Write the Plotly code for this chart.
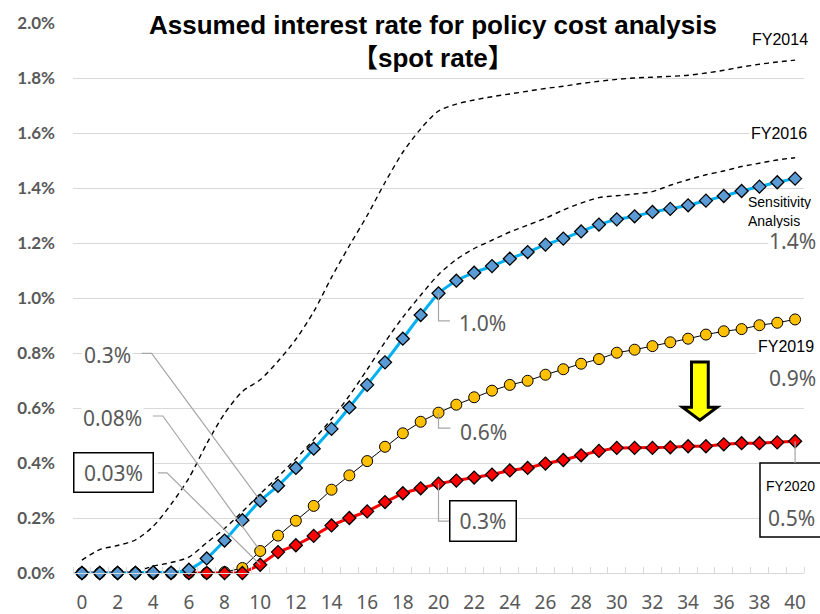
import plotly.graph_objects as go

# ---- data: spot rate (%) by term (years) ----
years = list(range(0, 41))

sensitivity = [0, 0, 0, 0, 0.003, 0.001, 0.012, 0.053, 0.118, 0.192,
               0.263, 0.317, 0.382, 0.452, 0.524, 0.602, 0.684, 0.766, 0.852, 0.938,
               1.017, 1.063, 1.092, 1.116, 1.143, 1.167, 1.194, 1.216, 1.242, 1.267,
               1.286, 1.297, 1.313, 1.324, 1.337, 1.354, 1.371, 1.389, 1.405, 1.421,
               1.434]

fy2019 = [0, 0, 0, 0, 0, 0, 0, 0, 0.003, 0.018,
          0.08, 0.136, 0.190, 0.244, 0.303, 0.355, 0.407, 0.459, 0.508, 0.550,
          0.583, 0.612, 0.639, 0.663, 0.684, 0.699, 0.721, 0.741, 0.761, 0.778,
          0.801, 0.812, 0.825, 0.839, 0.852, 0.867, 0.879, 0.887, 0.901, 0.910,
          0.922]

fy2020 = [0, 0, 0, 0, 0, 0, 0, 0, 0, 0,
          0.03, 0.076, 0.101, 0.135, 0.173, 0.200, 0.224, 0.258, 0.290, 0.308,
          0.325, 0.336, 0.347, 0.358, 0.373, 0.382, 0.398, 0.411, 0.428, 0.444,
          0.455, 0.455, 0.455, 0.457, 0.461, 0.461, 0.468, 0.472, 0.472, 0.475,
          0.479]

fy2016 = [0, 0, 0, 0.005, 0.025, 0.038, 0.058, 0.11, 0.162, 0.223,
          0.288, 0.35, 0.415, 0.485, 0.56, 0.645, 0.74, 0.84, 0.93, 1.01,
          1.085, 1.14, 1.18, 1.21, 1.24, 1.265, 1.29, 1.32, 1.345, 1.365,
          1.372, 1.378, 1.387, 1.41, 1.43, 1.448, 1.462, 1.478, 1.49, 1.502,
          1.51]

fy2014 = [0.047, 0.085, 0.10, 0.12, 0.17, 0.25, 0.345, 0.47, 0.58, 0.66,
          0.703, 0.77, 0.85, 0.95, 1.075, 1.19, 1.30, 1.42, 1.53, 1.615,
          1.68, 1.705, 1.72, 1.732, 1.742, 1.752, 1.762, 1.77, 1.78, 1.788,
          1.795, 1.80, 1.803, 1.806, 1.81, 1.818, 1.828, 1.84, 1.85, 1.858,
          1.865]

x_tick_vals = list(range(0, 41, 2))
y_tick_vals = [0.0, 0.2, 0.4, 0.6, 0.8, 1.0, 1.2, 1.4, 1.6, 1.8, 2.0]
y_tick_text = ["0.0%", "0.2%", "0.4%", "0.6%", "0.8%", "1.0%",
               "1.2%", "1.4%", "1.6%", "1.8%", "2.0%"]

TITLE_1 = "Assumed interest rate for policy cost analysis"
TITLE_2 = "【spot rate】"

# ---- styling ----
GRAY = "#595959"
GRID = "#D9D9D9"
LEADER = "#A6A6A6"
LABEL_FONT = "Noto Sans, DejaVu Sans, sans-serif"
NAME_FONT = "Liberation Sans, Arial, sans-serif"

fig = go.Figure()

# dashed reference curves
for series in (fy2014, fy2016):
    fig.add_trace(go.Scatter(
        x=years, y=series, mode="lines", cliponaxis=False, hoverinfo="skip",
        line=dict(color="black", width=1.4, dash="5px,4px",
                  shape="spline", smoothing=0.8),
    ))

fig.add_trace(go.Scatter(
    x=years, y=fy2019, mode="lines+markers", cliponaxis=False,
    line=dict(color="black", width=1),
    marker=dict(symbol="circle", size=11, color="#FFC000",
                line=dict(color="black", width=1)),
))

fig.add_trace(go.Scatter(
    x=years, y=fy2020, mode="lines+markers", cliponaxis=False,
    line=dict(color="#FF0000", width=3),
    marker=dict(symbol="diamond", size=10, color="#FF0000",
                line=dict(color="black", width=1.3)),
))

fig.add_trace(go.Scatter(
    x=years, y=sensitivity, mode="lines+markers", cliponaxis=False,
    line=dict(color="#00B0F0", width=3, shape="spline", smoothing=0.6),
    marker=dict(symbol="diamond", size=10, color="#5B9BD5",
                line=dict(color="black", width=1.3)),
))

annotations = []
shapes = []


def label(x, y, text, size=21, color=GRAY, family=LABEL_FONT, xanchor="center",
          bg="white", **kw):
    annotations.append(dict(
        x=x, y=y, xref="x", yref="y", text=text, showarrow=False,
        xanchor=xanchor, yanchor="middle", bgcolor=bg,
        font=dict(family=family, size=size, color=color), **kw))


def leader(points):
    path = "M " + " L ".join(f"{px},{py}" for px, py in points)
    shapes.append(dict(type="path", xref="x", yref="y", path=path,
                       line=dict(color=LEADER, width=1.2), layer="above"))


# 10-year values
label(1.43, 0.793, f"{sensitivity[10]:.1f}%")
leader([(3.35, 0.799), (3.91, 0.799), (10, sensitivity[10])])

label(1.71, 0.564, f"{fy2019[10]:.2f}%")
leader([(3.98, 0.571), (4.54, 0.571), (10, fy2019[10])])

label(1.77, 0.365, f"{fy2020[10]:.2f}%", bordercolor="black", borderwidth=1.5,
      borderpad=2, width=74, height=34)
leader([(4.26, 0.364), (4.77, 0.364), (10, fy2020[10])])

# 20-year values
label(22.49, 0.909, f"{sensitivity[20]:.1f}%")
leader([(20, sensitivity[20]), (20, 0.917), (20.64, 0.917)])

label(22.52, 0.513, f"{fy2019[20]:.1f}%")
leader([(20, fy2019[20]), (20, 0.527), (20.67, 0.527)])

label(22.49, 0.190, f"{fy2020[20]:.1f}%", bordercolor="black", borderwidth=1.5,
      borderpad=2, width=61, height=35)
leader([(20, fy2020[20]), (20, 0.189), (20.64, 0.189)])

# 40-year values and series names
label(39.17, 1.941, "FY2014", size=16, color="black", family=NAME_FONT)
label(39.12, 1.600, "FY2016", size=16, color="black", family=NAME_FONT)
label(37.30, 1.350, "Sensitivity", size=14, color="black", family=NAME_FONT,
      xanchor="left", bg="rgba(0,0,0,0)", borderpad=0, height=15)
label(37.30, 1.283, "Analysis", size=14, color="black", family=NAME_FONT,
      xanchor="left", bg="rgba(0,0,0,0)", borderpad=0, height=15)
label(39.88, 1.207, f"{sensitivity[40]:.1f}%", borderpad=0, height=20)
label(37.80, 0.823, "FY2019", size=16, color="black", family=NAME_FONT,
      xanchor="left")
label(39.88, 0.709, f"{fy2019[40]:.1f}%")

# FY2020 end-point box
shapes.append(dict(type="rect", xref="paper", yref="y", x0=0.9398, x1=1.08,
                   y0=0.131, y1=0.40, line=dict(color="black", width=1.5),
                   fillcolor="white", layer="above"))
leader([(40, fy2020[40]), (40, 0.40)])
label(38.25, 0.316, "FY2020", size=14, color="black", family=NAME_FONT,
      xanchor="left", bg="rgba(0,0,0,0)")
label(38.35, 0.200, f"{fy2020[40]:.1f}%", xanchor="left", bg="rgba(0,0,0,0)")

# downward arrow (FY2019 -> FY2020)
cx = 34.66
shaft, head = 0.47, 0.97
top, neck, tip = 0.767, 0.603, 0.556
arrow_path = (f"M {cx - shaft},{top} L {cx + shaft},{top} L {cx + shaft},{neck} "
              f"L {cx + head},{neck} L {cx},{tip} L {cx - head},{neck} "
              f"L {cx - shaft},{neck} Z")
shapes.append(dict(type="path", xref="x", yref="y", path=arrow_path,
                   fillcolor="#FFFF00", line=dict(color="black", width=3),
                   layer="above"))

# title
annotations.append(dict(
    x=0.4925, y=0.997, xref="paper", yref="paper", text=f"<b>{TITLE_1}</b>",
    showarrow=False, xanchor="center", yanchor="middle", bgcolor="white",
    font=dict(family="Liberation Sans, Noto Sans CJK JP, sans-serif", size=26,
              color="black")))
annotations.append(dict(
    x=0.4925, y=0.937, xref="paper", yref="paper", text=f"<b>{TITLE_2}</b>",
    showarrow=False, xanchor="center", yanchor="middle",
    font=dict(family="Liberation Sans, Noto Sans CJK JP, sans-serif", size=26,
              color="black")))

fig.update_layout(
    width=820, height=614,
    margin=dict(l=73, r=16, t=23, b=41),
    paper_bgcolor="white", plot_bgcolor="white",
    showlegend=False,
    annotations=annotations,
    shapes=shapes,
    xaxis=dict(
        range=[-0.5, 40.5], tickmode="array", tickvals=x_tick_vals,
        ticks="", showgrid=False, zeroline=False, automargin=False,
        showline=True, linecolor=GRID, linewidth=1,
        tickfont=dict(family=LABEL_FONT, size=19, color=GRAY),
        ticklabelstandoff=12,
        minor=dict(tickmode="linear", tick0=0.5, dtick=1, ticks="inside",
                   ticklen=6, tickcolor=GRID, tickwidth=1, showgrid=False),
    ),
    yaxis=dict(
        range=[0, 2.0], tickmode="array", tickvals=y_tick_vals,
        ticktext=y_tick_text, showgrid=True, gridcolor=GRID, gridwidth=1,
        zeroline=False, showline=False, ticks="", automargin=False,
        tickfont=dict(family="Lato, Liberation Sans, sans-serif", size=17,
                      color=GRAY, weight="bold"),
        ticklabelstandoff=17,
    ),
)

fig.write_html("out.html")
